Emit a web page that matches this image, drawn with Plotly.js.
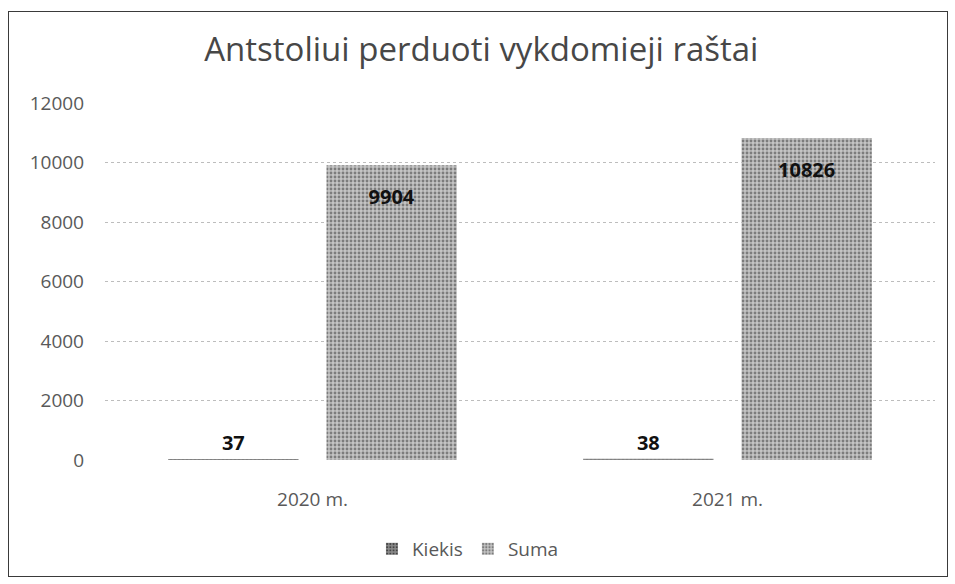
<!DOCTYPE html>
<html>
<head>
<meta charset="utf-8">
<script src="https://cdn.plot.ly/plotly-3.0.1.min.js"></script>
<style>
  html, body { margin: 0; padding: 0; background: #fff; }
  #chart { width: 955px; height: 584px; }
  #frame { position: absolute; left: 8px; top: 11px; width: 938px; height: 564px;
           border: 1.5px solid #3a3a3a; pointer-events: none; }
</style>
</head>
<body>
<div id="chart"></div>
<div id="frame"></div>
<script>
const categories = ["2020 m.", "2021 m."];
const kiekis = [37, 38];
const suma = [9904, 10826];
const seriesNames = ["Kiekis", "Suma"];
const yTicks = [0, 2000, 4000, 6000, 8000, 10000, 12000];
const chartTitle = "Antstoliui perduoti vykdomieji raštai";

const FONT = "Open Sans, Noto Sans, sans-serif";

const traces = [
  {
    type: "bar", name: seriesNames[0], x: categories, y: kiekis,
    marker: { color: "#6e6e6e",
              pattern: { shape: ".", fgcolor: "#444", bgcolor: "#8a8a8a", size: 4, solidity: 0.35 } },
    text: kiekis.map(String), textposition: "outside",
    textfont: { family: FONT, size: 20, color: "#111", weight: "bold" },
    cliponaxis: false
  },
  {
    type: "bar", name: seriesNames[1], x: categories, y: suma,
    marker: { color: "#a9a9a9",
              pattern: { shape: ".", fgcolor: "#7c7c7c", bgcolor: "#c4c4c4", size: 4, solidity: 0.4 } },
    text: suma.map(String),
    texttemplate: "<span style='font-size:9px'> </span><br>%{text}", textposition: "inside", insidetextanchor: "end",
    textfont: { family: FONT, size: 20, color: "#111", weight: "bold" },
    cliponaxis: false
  }
];

const layout = {
  width: 955, height: 584,
  margin: { l: 105, r: 20, t: 103, b: 124 },
  paper_bgcolor: "#fff", plot_bgcolor: "#fff",
  title: { text: chartTitle, x: 0.504, xref: "container", xanchor: "center",
           y: 0.915, yref: "container", yanchor: "middle",
           font: { family: FONT, size: 33, color: "#474747" } },
  barmode: "group", bargap: 0.237, bargroupgap: 0.177,
  xaxis: { type: "category", showgrid: false, zeroline: false, showline: false,
           ticks: "", ticklabelstandoff: 26,
           tickfont: { family: FONT, size: 19, color: "#595959" } },
  yaxis: { range: [0, 12000], tickvals: yTicks, ticktext: yTicks.map(String),
           showgrid: true, gridcolor: "#bdbdbd", griddash: "dot", gridwidth: 1,
           zeroline: false, showline: false, ticks: "", ticklabelstandoff: 20,
           tickfont: { family: FONT, size: 19, color: "#595959" } },
  legend: { orientation: "h", x: 0.49, xanchor: "center", xref: "container",
            y: 0.06, yref: "container", yanchor: "middle",
            font: { family: FONT, size: 19, color: "#595959" },
            itemwidth: 30, traceorder: "normal" },
  showlegend: true
};

Plotly.newPlot("chart", traces, layout, { displayModeBar: false, staticPlot: true });
</script>
</body>
</html>
